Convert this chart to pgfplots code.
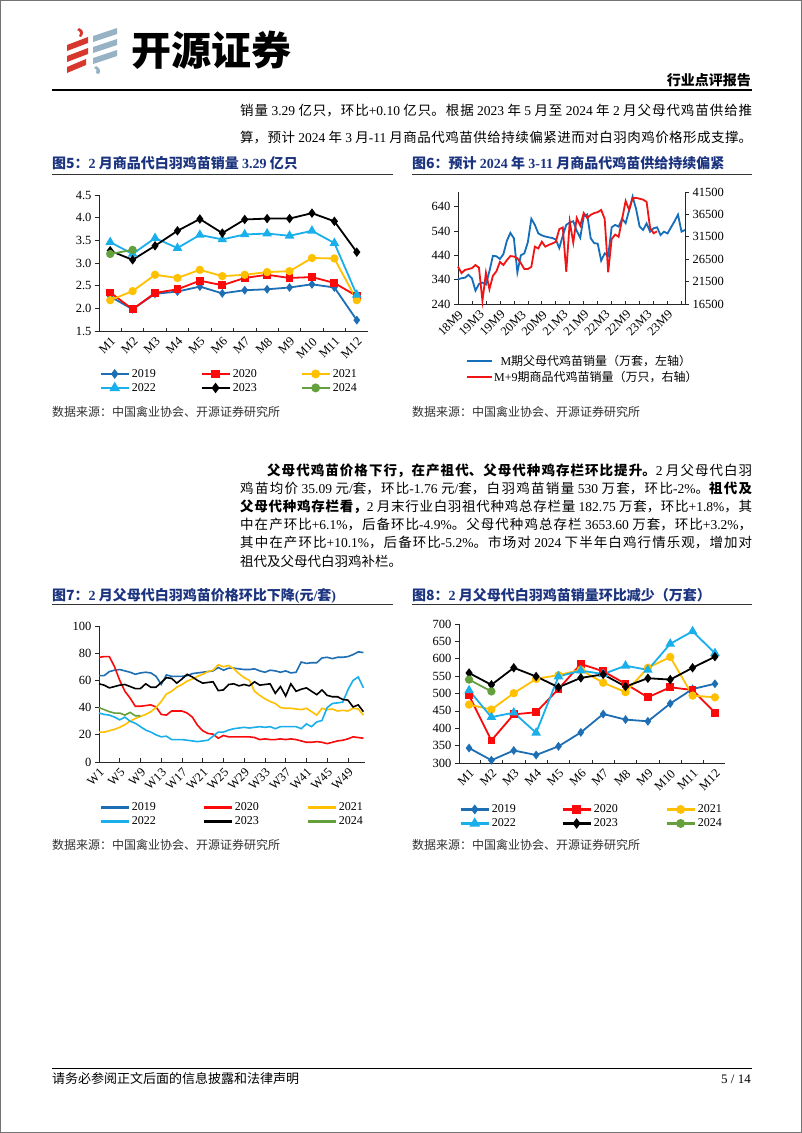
\documentclass[border=0pt]{standalone}
\usepackage{fontspec}
\usepackage{pgfplots}
\usepackage{pgfplotstable}
\pgfplotsset{compat=1.18}
\setmainfont{Noto Sans CJK SC}
\newfontfamily\tm{Liberation Serif}
\newcommand\T[1]{{\tm #1}}
\definecolor{c19}{RGB}{30,110,180}
\definecolor{c20}{RGB}{250,10,10}
\definecolor{c21}{RGB}{255,192,0}
\definecolor{c22}{RGB}{25,175,235}
\definecolor{c24}{RGB}{100,160,60}
\definecolor{c6b}{RGB}{20,110,185}
\definecolor{c6r}{RGB}{240,20,20}
\definecolor{tblue}{RGB}{28,52,128}
\definecolor{logored}{RGB}{215,55,45}
\definecolor{logoblue}{RGB}{150,178,196}

\pgfplotstableread{
m a b c d e
1 2.26 2.35 2.18 3.46 3.27
2 1.98 1.98 2.38 3.20 3.07
3 2.32 2.34 2.74 3.55 3.38
4 2.37 2.42 2.67 3.33 3.71
5 2.48 2.61 2.85 3.62 3.97
6 2.33 2.51 2.71 3.52 3.66
7 2.40 2.67 2.74 3.63 3.96
8 2.42 2.74 2.80 3.65 3.98
9 2.46 2.67 2.82 3.60 3.98
10 2.53 2.69 3.11 3.71 4.10
11 2.46 2.56 3.10 3.44 3.92
12 1.74 2.27 2.18 2.30 3.24
}\fivetab
\pgfplotstableread{
m f
1 3.20
2 3.29
}\fivenew

\pgfplotstableread{
i p
0 341
1 346
2 348
3 360
4 345
5 295
6 322
7 328
8 320
9 375
10 438
11 436
12 425
13 445
14 500
15 532
16 510
17 370
18 440
19 448
20 494
21 590
22 565
23 530
24 522
25 517
26 514
27 511
28 505
29 470
30 520
31 565
32 575
33 580
34 540
35 512
36 600
37 608
38 510
39 490
40 488
41 418
42 448
43 437
44 555
45 565
46 558
47 590
48 572
49 625
50 681
51 630
52 558
53 544
54 571
55 537
56 551
57 555
58 523
59 537
60 530
61 555
62 580
63 607
64 537
65 544
}\sixblue
\pgfplotstableread{
i q
0 24850
1 23400
2 24100
3 24300
4 24500
5 25200
6 24600
7 17200
8 23500
9 19800
10 22800
11 23800
12 25900
13 25200
14 26300
15 27200
16 27100
17 26700
18 25600
19 24300
20 24300
21 24800
22 29300
23 28900
24 30400
25 29300
26 29700
27 30000
28 30400
29 33200
30 33600
31 23700
32 34900
33 30200
34 35700
35 34000
36 36800
37 35700
38 36400
39 36800
40 37000
41 37500
42 35500
43 23600
44 31000
45 32000
46 31500
47 35500
48 39500
49 37500
50 40100
51 40200
52 40000
53 39800
54 39300
55 33500
56 32300
57 32700
}\sixred

\pgfplotstableread{
w a b c d e
1 63.5 77 22 36 57.5
2 63.5 77.5 22 35 56.5
3 66.5 77.5 23 34.5 54.5
4 67.5 70 24 33 55.5
5 68 60 25.5 31 56.5
6 67 52 27.5 33 57
7 66 47 30 30 55.5
8 64.5 41 32 28.5 54
9 65.5 41 33.5 26 54
10 66 41.5 35 23.5 57.5
11 65.5 42 37 22 55
12 63 40.5 40 20 55
13 57 35 44.5 18.5 58.5
14 64 34.5 50 19 62
15 63 37.5 52 16.5 61.5
16 63 37.5 55 16.5 58
17 63 37.5 57 16.5 61
18 63.5 36 59.5 16 64.5
19 65 33 61 15.5 62.5
20 65.5 27 63 15 60
21 66 23 64.5 15.5 58
22 66.5 21 66.5 16 58.5
23 67 20.5 67.5 19 59
24 69.5 17.5 71.5 22 52.5
25 67.5 19.5 70 22 53
26 69 18.5 71 23.5 57
27 69 18.5 68.5 24.5 57.5
28 68.5 18.5 65 25 56
29 68 18.5 62 25.5 57
30 68 18.5 60 25 56
31 68.5 18 52 25.5 59
32 67 16.5 49 26 56.5
33 66 17 46.5 25.5 57
34 67.5 16.5 44.5 26 57.5
35 67 16.5 43 24.5 50.5
36 66 17 40 26 55.5
37 67 16.5 39.5 26 48.5
38 65.5 17 39.5 26 57.5
39 66 16.5 39 26 52
40 73.5 15.5 38.5 24.5 53.5
41 72.5 14.5 39.5 28 54.5
42 73 14.5 37 26 52
43 73 15 34.5 29.5 49.5
44 76.5 14.5 39.5 30.5 53
45 77 13.5 38.5 40 49
46 76 14.5 39 43 48
47 77 15.5 37.5 43.5 48
48 77 16 38 44 46
49 77.5 17 37.5 53 45.5
50 79 18.5 39.5 60 40.5
51 81 18 39 62.5 42
52 80.5 17.5 34.5 54.5 37
}\sevtab
\pgfplotstableread{
w f
1 40
2 38.5
3 37
4 36
5 36
6 34.5
7 36.5
8 34
9 34
}\sevnew

\pgfplotstableread{
m a b c d e
1 343 494 468 509 559
2 308 365 454 432 525
3 336 440 501 445 574
4 323 446 542 387 549
5 348 513 553 549 518
6 388 585 568 566 545
7 441 564 531 556 555
8 425 528 504 580 520
9 420 489 574 568 544
10 471 518 605 643 540
11 513 510 494 679 574
12 528 445 489 616 606
}\eighttab
\pgfplotstableread{
m f
1 540
2 506
}\eightnew

\pgfplotsset{
  base/.style={
    scale only axis, clip=false,
    axis x line*=bottom, axis y line*=left,
    axis line style={black!85, line width=0.7pt, -},
    tick align=outside, major tick length=4pt, minor tick length=3.5pt,
    tick style={black!85, line width=0.7pt},
    tick label style={font=\tm\fontsize{12.5}{14}\selectfont},
    /pgf/number format/assume math mode=true,
    /pgf/number format/1000 sep={},
    scaled y ticks=false,
  },
  catx/.style={
    xmin=0.5, xmax=12.5, xtick={1,...,12},
    xticklabels={M1,M2,M3,M4,M5,M6,M7,M8,M9,M10,M11,M12},
    major x tick style={draw=none},
    minor xtick={1.5,2.5,...,11.5},
    minor x tick style={yshift=3.5pt},
    xticklabel style={rotate=45, anchor=north east, inner sep=1pt},
  },
  lgc/.style={
    legend columns=1,
    legend style={draw=none, fill=none, anchor=north west,
      font=\tm\fontsize{12}{13}\selectfont, row sep=0.5pt, nodes={inner xsep=2pt}},
  },
  ser/.style={line width=1.8pt},
  mkleg/.style={legend image code/.code={\draw[line width=2.4pt,mark repeat=2,mark phase=2] plot coordinates {(0pt,0pt) (14pt,0pt) (28pt,0pt)};}},
  lnleg/.style={legend image code/.code={\draw[line width=2.4pt] (0pt,0pt) -- (28pt,0pt);}},
}

% hidden axis carrying one legend column
\newcommand\legax[5]{%
  \begin{axis}[hide axis, scale only axis, at={#1}, anchor=south west, width=#2, height=#3,
    xmin=0, xmax=1, ymin=0, ymax=1, lgc, #4]
  #5
  \end{axis}}

\newcommand\jl[3]{\node[anchor=base west,inner sep=0pt] at (#1) {\parbox[t]{#2}{\fontsize{13.5}{16}\selectfont\parindent=0pt\parfillskip=0pt\XeTeXlinebreaklocale "zh"\XeTeXlinebreakskip=0pt plus 4pt\relax #3\par}};}

\begin{document}
\begin{tikzpicture}[x=1pt,y=-1pt]
\path[use as bounding box] (0,0) rectangle (802,1133);
\fill[white] (0,0) rectangle (802,1133);
\draw[black!55, line width=1pt] (0.5,0.5) rectangle (801.5,1132.5);

% logo
\begin{scope}
\fill[logored] (79,28) .. controls (84,30) and (84,34) .. (81,37) -- (79,36) .. controls (81,33) and (80,31) .. (77,30) -- cycle;
\fill[logored] (67,45) -- (88,37) -- (88,43) -- (67,51) -- cycle;
\fill[logored] (67,56) -- (88,48) -- (88,54) -- (67,62) -- cycle;
\fill[logored] (67,67) -- (86,59) -- (86,65) -- (67,73) -- cycle;
\fill[logoblue] (93,36) -- (117,28) -- (117,34) -- (93,42) -- cycle;
\fill[logoblue] (93,47) -- (117,39) -- (117,45) -- (93,53) -- cycle;
\fill[logoblue] (93,58) -- (117,50) -- (117,56) -- (93,64) -- cycle;
\fill[logoblue] (96,66) .. controls (100,68) and (101,71) .. (99,74) -- (96,73) .. controls (97,71) and (97,69) .. (94,68) -- cycle;
\end{scope}
\node[anchor=west,inner sep=0pt] at (131,50) {\fontsize{40}{40}\selectfont\bfseries 开源证券};
\node[anchor=base east,inner sep=0pt] at (751,85) {\fontsize{14}{16}\selectfont\bfseries 行业点评报告};
\draw[black, line width=1.2pt] (52,90) -- (752,90);

% top text
\jl{240,115}{512pt}{销量 \T{3.29} 亿只，环比\T{+0.10} 亿只。根据 \T{2023} 年 \T{5} 月至 \T{2024} 年 \T{2} 月父母代鸡苗供给推}
\jl{240,142}{512pt}{算，预计 \T{2024} 年 \T{3} 月\T{-11} 月商品代鸡苗供给持续偏紧进而对白羽肉鸡价格形成支撑。}

% chart titles row 1
\node[anchor=base west,inner sep=0pt,text=tblue] at (52,168) {\fontsize{14}{16}\selectfont\bfseries 图5：\T{2} 月商品代白羽鸡苗销量 \T{3.29} 亿只};
\node[anchor=base west,inner sep=0pt,text=tblue] at (412,168) {\fontsize{14}{16}\selectfont\bfseries 图6：预计 \T{2024} 年 \T{3-11} 月商品代鸡苗供给持续偏紧};
\draw[black!80, line width=0.8pt] (52,174) -- (393,174);
\draw[black!80, line width=0.8pt] (412,174) -- (752,174);

% chart 5
\begin{axis}[base, catx, lgc, mkleg, at={(99pt,-331pt)}, anchor=south west, width=269pt, height=136pt,
  ymin=1.5, ymax=4.5, ytick={1.5,2.0,2.5,3.0,3.5,4.0,4.5},
  yticklabel style={/pgf/number format/.cd, fixed, fixed zerofill, precision=1},
  legend style={at={(axis description cs:-0.01,-0.25)}}]
\addplot[forget plot, ser, c19, mark=diamond*, mark size=3pt] table[x=m,y=a]{\fivetab};
\addplot[forget plot, ser, c20, mark=square*, mark size=3pt] table[x=m,y=b]{\fivetab};
\addplot[forget plot, ser, c21, mark=*, mark size=3.2pt] table[x=m,y=c]{\fivetab};
\addplot[forget plot, ser, c22, mark=triangle*, mark size=3.8pt] table[x=m,y=d]{\fivetab};
\addplot[forget plot, ser, black, mark=diamond*, mark size=3.3pt] table[x=m,y=e]{\fivetab};
\addplot[forget plot, ser, c24, mark=*, mark size=3.2pt] table[x=m,y=f]{\fivenew};
\addlegendimage{c19, line width=1.8pt, mark=diamond*, mark size=3pt}\addlegendentry{2019}
\addlegendimage{c22, line width=1.8pt, mark=triangle*, mark size=3.8pt}\addlegendentry{2022}
\end{axis}
\legax{(99pt,-331pt)}{269pt}{136pt}{mkleg, legend style={at={(axis description cs:0.365,-0.25)}}}{%
\addlegendimage{c20, line width=1.8pt, mark=square*, mark size=3pt}\addlegendentry{2020}
\addlegendimage{black, line width=1.8pt, mark=diamond*, mark size=3.3pt}\addlegendentry{2023}}
\legax{(99pt,-331pt)}{269pt}{136pt}{mkleg, legend style={at={(axis description cs:0.737,-0.25)}}}{%
\addlegendimage{c21, line width=1.8pt, mark=*, mark size=3.2pt}\addlegendentry{2021}
\addlegendimage{c24, line width=1.8pt, mark=*, mark size=3.2pt}\addlegendentry{2024}}

% chart 6
\begin{axis}[base, at={(458pt,-304pt)}, anchor=south west, width=227pt, height=112pt,
  xmin=0, xmax=65, ymin=240, ymax=700, ytick={240,340,440,540,640},
  xtick={0,6,...,60}, xticklabels={18M9,19M3,19M9,20M3,20M9,21M3,21M9,22M3,22M9,23M3,23M9},
  major x tick style={draw=none}, minor xtick={4,8,...,64}, minor x tick style={yshift=3.5pt},
  xticklabel style={rotate=45, anchor=north east, inner sep=1pt}]
\addplot[c6b, line width=1.8pt] table[x=i,y=p]{\sixblue};
\end{axis}
\begin{axis}[base, at={(458pt,-304pt)}, anchor=south west, width=227pt, height=112pt,
  axis x line=none, axis y line*=right,
  xmin=0, xmax=65, ymin=16500, ymax=41500, ytick={16500,21500,26500,31500,36500,41500},
  yticklabel style={/pgf/number format/.cd, fixed, precision=0, 1000 sep={}},
  legend columns=1,
  legend style={draw=none, fill=none, anchor=north west, at={(axis description cs:0.02,-0.42)},
    font=\fontsize{12}{13}\selectfont, row sep=0pt, nodes={inner xsep=1pt}},
  legend image code/.code={\draw[line width=2.4pt] (0pt,0pt) -- (25pt,0pt);}]
\addlegendimage{c6b, line width=1.8pt}
\addlegendentry{\T{M}期父母代鸡苗销量（万套，左轴）}
\addplot[c6r, line width=1.8pt] table[x=i,y=q]{\sixred};
\addlegendentry{\T{M+9}期商品代鸡苗销量（万只，右轴）}
\end{axis}

% sources row 1
\node[anchor=base west,inner sep=0pt,text=black!80] at (52,416) {\fontsize{12}{14}\selectfont 数据来源：中国禽业协会、开源证券研究所};
\node[anchor=base west,inner sep=0pt,text=black!80] at (412,416) {\fontsize{12}{14}\selectfont 数据来源：中国禽业协会、开源证券研究所};

% paragraph
\jl{267,475}{485pt}{{\bfseries 父母代鸡苗价格下行，在产祖代、父母代种鸡存栏环比提升。}\T{2} 月父母代白羽}
\jl{240,493.2}{512pt}{鸡苗均价 \T{35.09} 元\T{/}套，环比\T{-1.76} 元\T{/}套，白羽鸡苗销量 \T{530} 万套，环比\T{-2\%}。{\bfseries 祖代及}}
\jl{240,511.4}{512pt}{{\bfseries 父母代种鸡存栏看，}\T{2} 月末行业白羽祖代种鸡总存栏量 \T{182.75} 万套，环比\T{+1.8\%}，其}
\jl{240,529.6}{512pt}{中在产环比\T{+6.1\%}，后备环比\T{-4.9\%}。父母代种鸡总存栏 \T{3653.60} 万套，环比\T{+3.2\%}，}
\jl{240,547.8}{512pt}{其中在产环比\T{+10.1\%}，后备环比\T{-5.2\%}。市场对 \T{2024} 下半年白鸡行情乐观，增加对}
\node[anchor=base west,inner sep=0pt] at (240,566) {\fontsize{13.5}{16}\selectfont 祖代及父母代白羽鸡补栏。};

% chart titles row 2
\node[anchor=base west,inner sep=0pt,text=tblue] at (52,600) {\fontsize{14}{16}\selectfont\bfseries 图7：\T{2} 月父母代白羽鸡苗价格环比下降\T{(}元\T{/}套\T{)}};
\node[anchor=base west,inner sep=0pt,text=tblue] at (412,600) {\fontsize{14}{16}\selectfont\bfseries 图8：\T{2} 月父母代白羽鸡苗销量环比减少（万套）};
\draw[black!80, line width=0.8pt] (52,604) -- (393,604);
\draw[black!80, line width=0.8pt] (412,604) -- (752,604);

% chart 7
\begin{axis}[base, lgc, lnleg, at={(99pt,-762pt)}, anchor=south west, width=266pt, height=136pt,
  xmin=1, xmax=52.3, ymin=0, ymax=100, ytick={0,20,...,100},
  xtick={1,5,...,49}, xticklabels={W1,W5,W9,W13,W17,W21,W25,W29,W33,W37,W41,W45,W49},
  major x tick style={yshift=4pt},
  xticklabel style={rotate=45, anchor=north east, inner sep=1pt},
  legend style={at={(axis description cs:-0.01,-0.27)}}]
\addplot[forget plot, c19, line width=1.6pt] table[x=w,y=a]{\sevtab};
\addplot[forget plot, c20, line width=1.6pt] table[x=w,y=b]{\sevtab};
\addplot[forget plot, c21, line width=1.6pt] table[x=w,y=c]{\sevtab};
\addplot[forget plot, c22, line width=1.6pt] table[x=w,y=d]{\sevtab};
\addplot[forget plot, black, line width=1.6pt] table[x=w,y=e]{\sevtab};
\addplot[forget plot, c24, line width=1.6pt] table[x=w,y=f]{\sevnew};
\addlegendimage{c19, line width=1.6pt}\addlegendentry{2019}
\addlegendimage{c22, line width=1.6pt}\addlegendentry{2022}
\end{axis}
\legax{(99pt,-762pt)}{266pt}{136pt}{lnleg, legend style={at={(axis description cs:0.377,-0.27)}}}{%
\addlegendimage{c20, line width=1.6pt}\addlegendentry{2020}
\addlegendimage{black, line width=1.6pt}\addlegendentry{2023}}
\legax{(99pt,-762pt)}{266pt}{136pt}{lnleg, legend style={at={(axis description cs:0.768,-0.27)}}}{%
\addlegendimage{c21, line width=1.6pt}\addlegendentry{2021}
\addlegendimage{c24, line width=1.6pt}\addlegendentry{2024}}

% chart 8
\begin{axis}[base, catx, lgc, mkleg, at={(459pt,-763pt)}, anchor=south west, width=266pt, height=139pt,
  xmin=0.55, xmax=12.45,
  ymin=300, ymax=700, ytick={300,350,...,700},
  legend style={at={(axis description cs:-0.01,-0.27)}}]
\addplot[forget plot, ser, c19, mark=diamond*, mark size=3pt] table[x=m,y=a]{\eighttab};
\addplot[forget plot, ser, c20, mark=square*, mark size=3pt] table[x=m,y=b]{\eighttab};
\addplot[forget plot, ser, c21, mark=*, mark size=3.2pt] table[x=m,y=c]{\eighttab};
\addplot[forget plot, ser, c22, mark=triangle*, mark size=3.8pt] table[x=m,y=d]{\eighttab};
\addplot[forget plot, ser, black, mark=diamond*, mark size=3.3pt] table[x=m,y=e]{\eighttab};
\addplot[forget plot, ser, c24, mark=*, mark size=3.2pt] table[x=m,y=f]{\eightnew};
\addlegendimage{c19, line width=1.8pt, mark=diamond*, mark size=3pt}\addlegendentry{2019}
\addlegendimage{c22, line width=1.8pt, mark=triangle*, mark size=3.8pt}\addlegendentry{2022}
\end{axis}
\legax{(459pt,-763pt)}{266pt}{139pt}{mkleg, legend style={at={(axis description cs:0.373,-0.27)}}}{%
\addlegendimage{c20, line width=1.8pt, mark=square*, mark size=3pt}\addlegendentry{2020}
\addlegendimage{black, line width=1.8pt, mark=diamond*, mark size=3.3pt}\addlegendentry{2023}}
\legax{(459pt,-763pt)}{266pt}{139pt}{mkleg, legend style={at={(axis description cs:0.764,-0.27)}}}{%
\addlegendimage{c21, line width=1.8pt, mark=*, mark size=3.2pt}\addlegendentry{2021}
\addlegendimage{c24, line width=1.8pt, mark=*, mark size=3.2pt}\addlegendentry{2024}}

% sources row 2
\node[anchor=base west,inner sep=0pt,text=black!80] at (52,849) {\fontsize{12}{14}\selectfont 数据来源：中国禽业协会、开源证券研究所};
\node[anchor=base west,inner sep=0pt,text=black!80] at (412,849) {\fontsize{12}{14}\selectfont 数据来源：中国禽业协会、开源证券研究所};

% footer
\draw[black, line width=1pt] (52,1068) -- (752,1068);
\node[anchor=base west,inner sep=0pt] at (52,1083) {\fontsize{13}{15}\selectfont 请务必参阅正文后面的信息披露和法律声明};
\node[anchor=base east,inner sep=0pt] at (751,1083) {\fontsize{13}{15}\selectfont\T{5 / 14}};
\end{tikzpicture}
\end{document}
